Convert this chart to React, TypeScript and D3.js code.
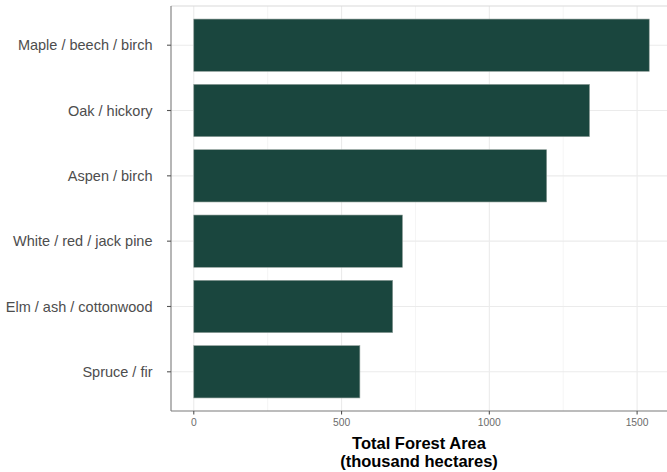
import React from "react";
import * as d3 from "d3";

const categories = [
  "Maple / beech / birch",
  "Oak / hickory",
  "Aspen / birch",
  "White / red / jack pine",
  "Elm / ash / cottonwood",
  "Spruce / fir",
];
const values = [1541, 1339, 1194, 706, 673, 562];
const majorTicks = [0, 500, 1000, 1500];
const minorTicks = [250, 750, 1250];
const titleLines = ["Total Forest Area", "(thousand hectares)"];

const W = 667;
const H = 472;
const panel = { left: 171, top: 6, right: 672, bottom: 411 };

export default function App() {
  const maxV = d3.max(values) as number;
  const x = d3
    .scaleLinear()
    .domain([-0.05 * maxV, maxV * 1.05])
    .range([panel.left, panel.right]);
  const ys = d3
    .scaleLinear()
    .domain([0.4, categories.length + 0.6])
    .range([panel.top, panel.bottom]);
  const cy = (i: number) => ys(i + 1);
  const unit = (panel.bottom - panel.top) / (categories.length + 0.2);
  const barH = unit * 0.8;

  return (
    <svg
      width={W}
      height={H}
      style={{ position: "absolute", left: 0, top: 0, background: "#fff" }}
      fontFamily="'Liberation Sans', Arial, sans-serif"
    >
      {minorTicks.map((t) => (
        <line
          key={"mn" + t}
          x1={x(t)}
          x2={x(t)}
          y1={panel.top}
          y2={panel.bottom}
          stroke="#f2f2f2"
          strokeWidth={0.8}
        />
      ))}
      {majorTicks.map((t) => (
        <line
          key={"mj" + t}
          x1={x(t)}
          x2={x(t)}
          y1={panel.top}
          y2={panel.bottom}
          stroke="#ebebeb"
          strokeWidth={1.1}
        />
      ))}
      {categories.map((c, i) => (
        <line
          key={"hg" + c}
          x1={panel.left}
          x2={panel.right}
          y1={cy(i)}
          y2={cy(i)}
          stroke="#ebebeb"
          strokeWidth={1.1}
        />
      ))}
      <line
        x1={panel.left}
        x2={panel.right}
        y1={panel.top}
        y2={panel.top}
        stroke="#d9d9d9"
        strokeWidth={1.2}
      />
      {categories.map((c, i) => (
        <rect
          key={"b" + c}
          x={x(0)}
          y={cy(i) - barH / 2}
          width={x(values[i]) - x(0)}
          height={barH}
          fill="#1a463e"
          stroke="#8d9c97"
          strokeWidth={0.6}
        />
      ))}
      <line
        x1={panel.left}
        x2={panel.left}
        y1={panel.top}
        y2={panel.bottom}
        stroke="#7a7a7a"
        strokeWidth={1.1}
      />
      <line
        x1={panel.left}
        x2={panel.right}
        y1={panel.bottom}
        y2={panel.bottom}
        stroke="#7a7a7a"
        strokeWidth={1.1}
      />
      {categories.map((c, i) => (
        <g key={"yt" + c}>
          <line
            x1={panel.left - 4}
            x2={panel.left}
            y1={cy(i)}
            y2={cy(i)}
            stroke="#555"
            strokeWidth={1.1}
          />
          <text
            x={152.5}
            y={cy(i)}
            dy="0.35em"
            textAnchor="end"
            fontSize={14.5}
            fill="#4d4d4d"
          >
            {c}
          </text>
        </g>
      ))}
      {majorTicks.map((t) => (
        <g key={"xt" + t}>
          <line
            x1={x(t)}
            x2={x(t)}
            y1={panel.bottom}
            y2={panel.bottom + 3.5}
            stroke="#555"
            strokeWidth={1.1}
          />
          <text
            x={x(t)}
            y={425.5}
            textAnchor="middle"
            fontSize={10.3}
            fill="#6b6b6b"
          >
            {t}
          </text>
        </g>
      ))}
      {titleLines.map((l, i) => (
        <text
          key={l}
          x={(panel.left + W) / 2}
          y={449 + i * 17.5}
          textAnchor="middle"
          fontSize={16.5}
          fontWeight="bold"
          fill="#000"
        >
          {l}
        </text>
      ))}
    </svg>
  );
}
